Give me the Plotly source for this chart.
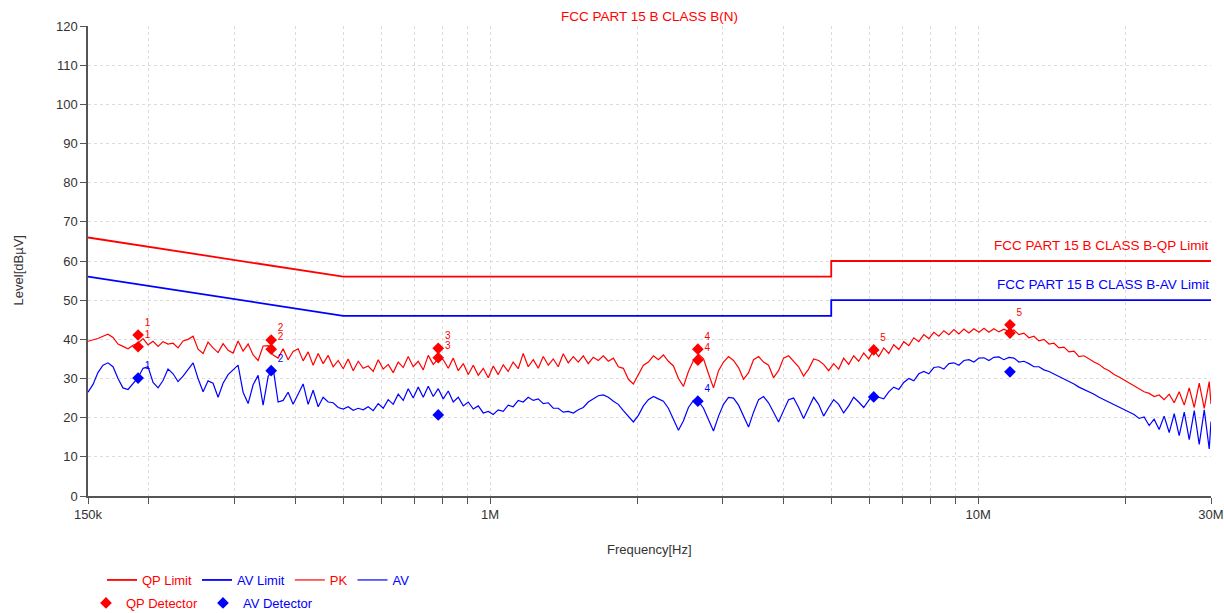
import numpy as np
import plotly.graph_objects as go

# ---------------- data ----------------
freq_mhz = [
    0.1500, 0.1536, 0.1572, 0.1610, 0.1648, 0.1688, 0.1728, 0.1769, 0.1812, 0.1855,
    0.1899, 0.1945, 0.1991, 0.2039, 0.2088, 0.2137, 0.2188, 0.2241, 0.2294, 0.2349,
    0.2405, 0.2463, 0.2521, 0.2582, 0.2643, 0.2706, 0.2771, 0.2837, 0.2905, 0.2974,
    0.3045, 0.3118, 0.3193, 0.3269, 0.3347, 0.3427, 0.3509, 0.3593, 0.3678, 0.3766,
    0.3856, 0.3948, 0.4043, 0.4139, 0.4238, 0.4339, 0.4443, 0.4549, 0.4658, 0.4769,
    0.4883, 0.5000, 0.5119, 0.5242, 0.5367, 0.5495, 0.5626, 0.5761, 0.5898, 0.6039,
    0.6183, 0.6331, 0.6482, 0.6637, 0.6796, 0.6958, 0.7124, 0.7295, 0.7469, 0.7647,
    0.7830, 0.8017, 0.8208, 0.8404, 0.8605, 0.8811, 0.9021, 0.9237, 0.9457, 0.9683,
    0.9914, 1.015, 1.039, 1.064, 1.089, 1.115, 1.142, 1.169, 1.197, 1.226,
    1.255, 1.285, 1.316, 1.347, 1.379, 1.412, 1.446, 1.481, 1.516, 1.552,
    1.589, 1.627, 1.666, 1.706, 1.747, 1.789, 1.831, 1.875, 1.920, 1.966,
    2.013, 2.061, 2.110, 2.161, 2.212, 2.265, 2.319, 2.375, 2.432, 2.490,
    2.549, 2.610, 2.673, 2.737, 2.802, 2.869, 2.938, 3.008, 3.080, 3.153,
    3.229, 3.306, 3.385, 3.466, 3.549, 3.633, 3.720, 3.809, 3.900, 3.993,
    4.089, 4.187, 4.287, 4.389, 4.494, 4.602, 4.712, 4.824, 4.940, 5.058,
    5.179, 5.302, 5.429, 5.559, 5.692, 5.828, 5.968, 6.110, 6.256, 6.406,
    6.559, 6.716, 6.877, 7.041, 7.210, 7.382, 7.558, 7.739, 7.924, 8.114,
    8.308, 8.506, 8.710, 8.918, 9.131, 9.350, 9.573, 9.802, 10.04, 10.28,
    10.52, 10.77, 11.03, 11.29, 11.56, 11.84, 12.12, 12.41, 12.71, 13.01,
    13.32, 13.64, 13.97, 14.30, 14.64, 14.99, 15.35, 15.72, 16.09, 16.48,
    16.87, 17.28, 17.69, 18.11, 18.55, 18.99, 19.44, 19.91, 20.38, 20.87,
    21.37, 21.88, 22.41, 22.94, 23.49, 24.05, 24.63, 25.22, 25.82, 26.44,
    27.07, 27.72, 28.38, 29.06, 29.75, 30.0,
]

pk_level = [
    39.5, 39.8, 40.2, 40.8, 41.3, 40.5, 38.8, 38.2, 37.6, 38.5,
    39.0, 40.2, 38.6, 39.5, 38.2, 39.4, 38.8, 39.0, 37.8, 39.6,
    40.0, 40.8, 37.5, 36.4, 39.3, 37.8, 36.6, 38.9, 37.2, 36.5,
    39.6, 37.0, 38.8, 36.0, 34.6, 38.3, 38.4, 36.0, 35.2, 37.6,
    34.8, 36.9, 37.6, 34.5, 36.8, 33.4, 36.4, 33.8, 35.9, 33.0,
    34.6, 32.5, 35.0, 32.0, 34.4, 32.6, 33.2, 31.8, 34.8, 32.4,
    33.6, 31.5, 34.2, 32.8, 35.6, 33.0, 34.4, 32.2, 35.9, 33.6,
    35.0, 34.8, 32.6, 35.2, 32.0, 33.8, 31.0, 33.4, 30.8, 32.6,
    30.2, 33.2, 31.0, 33.5, 31.8, 34.2, 32.5, 36.4, 33.0, 34.8,
    32.6, 35.6, 33.4, 35.0, 33.0, 36.3, 34.0, 35.6, 34.2, 35.8,
    33.8, 35.4, 34.6, 35.8, 34.4, 35.2, 33.0, 32.6, 29.8, 28.6,
    31.2, 33.4, 34.2, 35.8, 34.8, 36.0, 34.4, 33.2, 30.0, 28.0,
    31.8, 34.6, 36.2, 35.0, 31.2, 27.6, 32.0, 34.2, 35.6, 34.6,
    32.8, 29.8, 31.5, 34.8, 35.6, 34.2, 33.4, 30.2, 32.0, 35.2,
    35.8, 34.4, 33.0, 30.6, 32.4, 35.0, 34.6, 33.6, 32.0, 33.8,
    32.4, 35.2, 33.6, 35.8, 34.4, 36.5, 35.0, 37.2, 35.6, 37.8,
    36.4, 38.6, 37.4, 39.4, 38.4, 40.4, 39.4, 41.2, 40.2, 41.8,
    40.8, 42.2, 41.2, 42.5, 41.4, 42.6, 41.6, 42.7, 41.8, 42.8,
    41.8, 42.7, 41.9, 42.6, 42.0, 42.4, 41.2, 41.6, 40.4, 40.8,
    39.6, 40.0, 38.8, 39.0, 37.8, 38.0, 36.8, 37.0, 35.6, 35.8,
    35.0, 34.2, 33.6, 32.6, 32.0, 31.0, 30.4, 29.6, 29.0, 28.0,
    27.4, 26.6, 26.2, 25.4, 25.8, 24.6, 26.0, 23.8, 26.6, 23.2,
    27.6, 22.6, 28.8, 22.4, 29.2, 23.5,
]

av_level = [
    26.5, 28.5, 31.5, 33.4, 34.0, 33.0, 30.0, 27.6, 27.2, 28.8,
    30.2, 32.6, 33.0, 29.0, 27.6, 29.5, 32.4, 31.2, 29.2, 30.6,
    32.4, 34.0, 30.0, 26.6, 29.4, 28.8, 25.2, 28.8, 31.0, 32.2,
    33.4, 26.5, 23.6, 28.4, 30.8, 23.2, 30.5, 32.6, 24.0, 24.4,
    26.5, 23.4, 26.0, 28.6, 23.4, 27.0, 22.8, 25.2, 24.0, 23.8,
    22.6, 22.2, 22.8, 21.9, 22.4, 22.0, 22.8, 21.8, 23.6, 22.4,
    24.6, 23.4, 26.0, 24.4, 27.4, 25.0, 27.8, 25.2, 28.0, 25.4,
    27.4, 24.8, 26.8, 24.0, 25.2, 23.0, 24.0, 22.2, 23.0, 21.2,
    21.6, 20.8, 22.0, 21.6, 23.2, 22.8, 24.4, 24.0, 25.2, 24.4,
    24.8, 23.6, 23.8, 22.4, 22.4, 21.4, 21.6, 21.2, 22.0, 22.6,
    24.0, 24.8, 25.6, 25.8, 25.2, 24.2, 23.4, 21.8, 20.2, 18.9,
    20.6, 23.0, 24.6, 25.4, 24.8, 24.2, 22.4, 19.6, 16.8, 19.2,
    22.6, 24.4, 24.2, 22.4, 19.4, 16.6, 20.4, 23.4, 25.2, 25.0,
    23.2, 20.2, 17.6, 21.4, 24.6, 25.4, 23.8, 21.4, 18.9, 21.8,
    24.6, 25.0, 22.6, 19.8, 22.4, 25.2, 23.4, 20.4, 22.6, 24.6,
    23.4, 21.2, 23.0, 25.2, 24.0, 22.6, 24.4, 26.0, 25.2, 24.8,
    26.6, 27.8, 27.2, 29.0, 30.0, 29.4, 31.2, 31.8, 31.2, 32.8,
    33.0, 32.4, 33.8, 34.0, 33.4, 34.6, 34.8, 34.2, 35.2, 35.3,
    34.6, 35.4, 35.5, 34.8, 35.4, 35.2, 34.2, 34.4, 33.8, 33.0,
    33.0, 32.2, 31.8, 31.2, 30.4, 30.0, 29.2, 28.6, 27.8, 27.2,
    26.6, 26.0, 25.2, 24.6, 24.0, 23.2, 22.6, 22.0, 21.4, 20.8,
    19.8, 20.2, 18.0, 19.6, 17.0, 20.4, 16.2, 21.0, 15.4, 21.4,
    14.4, 21.8, 13.2, 22.0, 12.0, 19.0,
]

limit_freq_mhz = [0.15, 0.5, 5.0, 5.0, 30.0]
qp_limit = [66, 56, 56, 60, 60]
av_limit = [56, 46, 46, 50, 50]

qp_det_freq_mhz = [0.190, 0.190, 0.356, 0.356, 0.783, 0.783, 2.665, 2.665, 6.11, 11.62, 11.62]
qp_det_level = [41.1, 38.1, 39.8, 37.5, 37.7, 35.3, 37.5, 34.7, 37.3, 43.7, 41.6]
qp_det_label = ["1", "1", "2", "2", "3", "3", "4", "4", "5", "5", ""]

av_det_freq_mhz = [0.190, 0.356, 0.783, 2.665, 6.11, 11.62]
av_det_level = [30.1, 32.0, 20.7, 24.2, 25.3, 31.7]
av_det_label = ["1", "2", "", "4", "", ""]

x_major_vals = [150e3, 1e6, 10e6, 30e6]
x_major_text = ["150k", "1M", "10M", "30M"]
x_minor_vals = [200e3, 300e3, 400e3, 500e3, 600e3, 700e3, 800e3, 900e3,
                2e6, 3e6, 4e6, 5e6, 6e6, 7e6, 8e6, 9e6, 20e6]

assert len(freq_mhz) == len(pk_level) == len(av_level)

RED = "#ff0000"
BLUE = "#0000ff"
FONT = "Liberation Sans, Arial, sans-serif"

def hz(v):
    return np.array(v, dtype=float) * 1e6

fig = go.Figure()
fig.add_trace(go.Scatter(x=hz(limit_freq_mhz), y=qp_limit, mode="lines",
                         line=dict(color=RED, width=1.8),
                         name='<span style="color:#ff0000">QP Limit</span>', legend="legend"))
fig.add_trace(go.Scatter(x=hz(limit_freq_mhz), y=av_limit, mode="lines",
                         line=dict(color=BLUE, width=1.8),
                         name='<span style="color:#0000ff">AV Limit</span>', legend="legend"))
fig.add_trace(go.Scatter(x=hz(freq_mhz), y=pk_level, mode="lines",
                         line=dict(color=RED, width=1.2),
                         name='<span style="color:#ff0000">PK</span>', legend="legend"))
fig.add_trace(go.Scatter(x=hz(freq_mhz), y=av_level, mode="lines",
                         line=dict(color=BLUE, width=1.2),
                         name='<span style="color:#0000ff">AV</span>', legend="legend"))
fig.add_trace(go.Scatter(x=hz(qp_det_freq_mhz), y=qp_det_level, mode="markers+text",
                         marker=dict(symbol="diamond", size=9, color=RED),
                         text=qp_det_label, textposition="top right",
                         textfont=dict(color=RED, size=10, family=FONT),
                         name='<span style="color:#ff0000">QP Detector</span>', legend="legend2"))
fig.add_trace(go.Scatter(x=hz(av_det_freq_mhz), y=av_det_level, mode="markers+text",
                         marker=dict(symbol="diamond", size=9, color=BLUE),
                         text=av_det_label, textposition="top right",
                         textfont=dict(color=BLUE, size=10, family=FONT),
                         name='<span style="color:#0000ff">AV Detector</span>', legend="legend2"))

axis_common = dict(showline=True, linecolor="#555555", linewidth=1.5,
                   ticks="outside", ticklen=6, tickwidth=1.2, tickcolor="#555555",
                   showgrid=True, gridcolor="#dcdcdc", griddash="dot", gridwidth=1,
                   zeroline=False, automargin=False,
                   tickfont=dict(family=FONT, size=13, color="#333333"))

fig.update_xaxes(type="log", range=[np.log10(150e3), np.log10(30e6)],
                 tickmode="array", tickvals=x_major_vals, ticktext=x_major_text,
                 minor=dict(tickmode="array", tickvals=x_minor_vals, ticks="outside",
                            ticklen=6, tickwidth=1.2, tickcolor="#555555",
                            showgrid=True, gridcolor="#dcdcdc", griddash="dot"),
                 **axis_common)
fig.update_yaxes(range=[0, 120], tickmode="linear", tick0=0, dtick=10, **axis_common)

fig.add_annotation(text="FCC PART 15 B CLASS B(N)", xref="paper", yref="paper",
                   x=0.5, y=1, yshift=10, xanchor="center", yanchor="middle",
                   showarrow=False, font=dict(family=FONT, size=13.5, color=RED))
fig.add_annotation(text="FCC PART 15 B CLASS B-QP Limit", xref="paper", yref="y",
                   x=1, y=qp_limit[-1], yshift=16, xanchor="right", yanchor="middle",
                   showarrow=False, font=dict(family=FONT, size=13.5, color=RED))
fig.add_annotation(text="FCC PART 15 B CLASS B-AV Limit", xref="paper", yref="y",
                   x=1, y=av_limit[-1], yshift=16, xanchor="right", yanchor="middle",
                   showarrow=False, font=dict(family=FONT, size=13.5, color=BLUE))
fig.add_annotation(text="Frequency[Hz]", xref="paper", yref="paper",
                   x=0.5, y=-0.1128, xanchor="center", yanchor="middle",
                   showarrow=False, font=dict(family=FONT, size=13, color="#333333"))
fig.add_annotation(text="Level[dBµV]", xref="paper", yref="paper", textangle=-90,
                   x=-0.0623, y=0.48, xanchor="center", yanchor="middle",
                   showarrow=False, font=dict(family=FONT, size=13, color="#333333"))

fig.update_layout(
    width=1224, height=613,
    margin=dict(l=88, r=13, t=26, b=117, autoexpand=False),
    paper_bgcolor="white", plot_bgcolor="white",
    showlegend=True,
    legend=dict(orientation="h", xref="container", yref="container",
                x=102 / 1224, y=(613 - 580) / 613, xanchor="left", yanchor="middle",
                font=dict(family=FONT, size=13), bgcolor="rgba(0,0,0,0)"),
    legend2=dict(orientation="h", xref="container", yref="container",
                 x=86 / 1224, y=(613 - 603) / 613, xanchor="left", yanchor="middle",
                 font=dict(family=FONT, size=13), bgcolor="rgba(0,0,0,0)"),
    font=dict(family=FONT),
)

fig.write_html("out.html", config={"displayModeBar": False},
               post_script="document.body.style.margin='0';document.body.style.padding='0';document.body.style.overflow='hidden';")
